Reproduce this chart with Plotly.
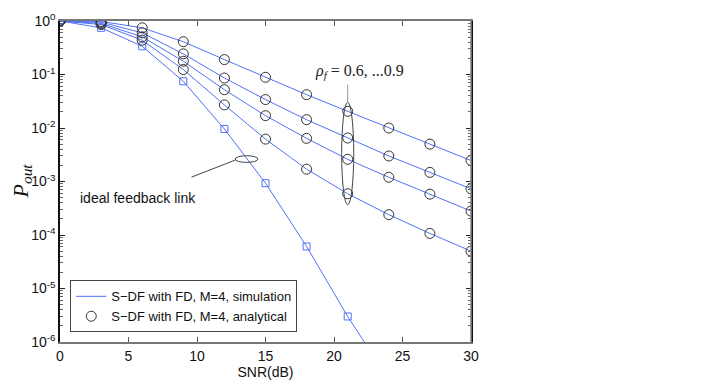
import plotly.graph_objects as go

# SNR points (dB)
snr = [0, 3, 6, 9, 12, 15, 18, 21, 24, 27, 30]

# outage probability, rho_f = 0.6 ... 0.9 (S-DF with FD, M=4)
p_rho06 = [1, 0.98, 0.746, 0.41, 0.19, 0.0887, 0.042, 0.0205, 0.010, 0.0050, 0.00247]
p_rho07 = [1, 0.95, 0.60, 0.243, 0.086, 0.034, 0.0143, 0.0065, 0.0030, 0.00148, 0.00073]
p_rho08 = [1, 0.90, 0.506, 0.177, 0.052, 0.017, 0.0064, 0.0026, 0.0012, 0.00058, 0.00028]
p_rho09 = [1, 0.86, 0.437, 0.124, 0.027, 0.0062, 0.0017, 0.00059, 0.00024, 0.000107, 0.00005]

# ideal feedback link
snr_ideal = [0, 3, 6, 9, 12, 15, 18, 21, 24]
p_ideal = [1, 0.746, 0.337, 0.0746, 0.0096, 0.00093, 6.1e-5, 3.0e-6, 2e-7]

# y tick labels
y_ticks = [1, 1e-1, 1e-2, 1e-3, 1e-4, 1e-5, 1e-6]
y_labels = ['10<sup>0</sup>', '10<sup>-1</sup>', '10<sup>-2</sup>', '10<sup>-3</sup>',
            '10<sup>-4</sup>', '10<sup>-5</sup>', '10<sup>-6</sup>']

blue = '#5271f5'
dark = '#333333'
font = 'Liberation Sans, Arial, sans-serif'
serif = 'Liberation Serif, DejaVu Serif, serif'

fig = go.Figure()

curves = [p_rho06, p_rho07, p_rho08, p_rho09]

# simulation lines
for i, p in enumerate(curves):
    fig.add_trace(go.Scatter(
        x=snr, y=p, mode='lines',
        line=dict(color=blue, width=1),
        name='S\u2212DF with FD, M=4, simulation',
        legendgroup='sim', showlegend=(i == 0),
    ))

fig.add_trace(go.Scatter(
    x=snr_ideal, y=p_ideal, mode='lines+markers',
    line=dict(color=blue, width=1),
    marker=dict(symbol='square-open', size=7, color=blue, line=dict(width=1)),
    showlegend=False,
))

# analytical points
for i, p in enumerate(curves):
    fig.add_trace(go.Scatter(
        x=snr, y=p, mode='markers',
        marker=dict(symbol='circle-open', size=10, color=dark, line=dict(width=1)),
        name='S\u2212DF with FD, M=4, analytical',
        legendgroup='ana', showlegend=(i == 0),
    ))

# ellipses and pointer lines (log axis -> shapes take raw values)
fig.add_shape(type='circle', xref='x', yref='y', x0=20.56, x1=21.44,
              y0=10 ** -3.436, y1=10 ** -1.52,
              line=dict(color='#444444', width=1))
fig.add_shape(type='line', xref='x', yref='y', x0=21, x1=21,
              y0=10 ** -1.19, y1=10 ** -1.52,
              line=dict(color='#999999', width=1))
fig.add_shape(type='circle', xref='x', yref='y', x0=12.79, x1=14.45,
              y0=10 ** -2.643, y1=10 ** -2.518,
              line=dict(color='#444444', width=1))
fig.add_shape(type='line', xref='x', yref='y', x0=9.6, x1=12.79,
              y0=10 ** -2.918, y1=10 ** -2.60,
              line=dict(color='#444444', width=1))

# right frame edge in grey
fig.add_shape(type='line', xref='paper', yref='paper', x0=1, x1=1, y0=0, y1=1,
              line=dict(color='#888888', width=1.5))

fig.add_annotation(x=21.85, y=-0.94, xref='x', yref='y', showarrow=False,
                   text='<i>ρ</i><sub><i>f</i></sub> = 0.6, ...0.9',
                   font=dict(family=serif, size=16, color='#222222'))
fig.add_annotation(x=5.66, y=-3.305, xref='x', yref='y', showarrow=False,
                   text='ideal feedback link',
                   font=dict(family=font, size=14, color='#111111'))
fig.add_annotation(x=0, y=0.5, xref='paper', yref='paper', showarrow=False,
                   xanchor='center', xshift=-39,
                   text='<i>P</i><sub><i>out</i></sub>', textangle=-90,
                   font=dict(family=serif, size=22, color='#111111'))

# page body has an 8px margin, so shift the figure margins to compensate
fig.update_layout(
    width=720, height=390,
    margin=dict(l=52, r=257, t=13, b=56, autoexpand=False),
    plot_bgcolor='white', paper_bgcolor='white',
    font=dict(family=font, size=14, color='#111111'),
    legend=dict(x=0.025, y=0.03, xanchor='left', yanchor='bottom',
                bordercolor='#444444', borderwidth=1, bgcolor='white',
                font=dict(family=font, size=13), itemwidth=30, tracegroupgap=0),
)

fig.update_xaxes(
    range=[0, 30], tickvals=[0, 5, 10, 15, 20, 25, 30],
    ticks='inside', ticklen=5, tickcolor='#555555', automargin=False,
    showline=True, linecolor='#777777', linewidth=1.5, mirror='ticks',
    showgrid=False, zeroline=False,
    tickfont=dict(size=14),
    title=dict(text='SNR(dB)', font=dict(size=14), standoff=2),
)
fig.update_yaxes(
    type='log', range=[-6, 0], tickvals=y_ticks, ticktext=y_labels,
    ticks='inside', ticklen=5, tickcolor='#222222', automargin=False,
    minor=dict(ticks='inside', ticklen=3, dtick='D1', tickcolor='#666666', showgrid=False),
    showline=True, linecolor='#111111', linewidth=1.5, mirror='ticks',
    showgrid=False, zeroline=False,
    tickfont=dict(size=14),
)

fig.write_html('out.html')
